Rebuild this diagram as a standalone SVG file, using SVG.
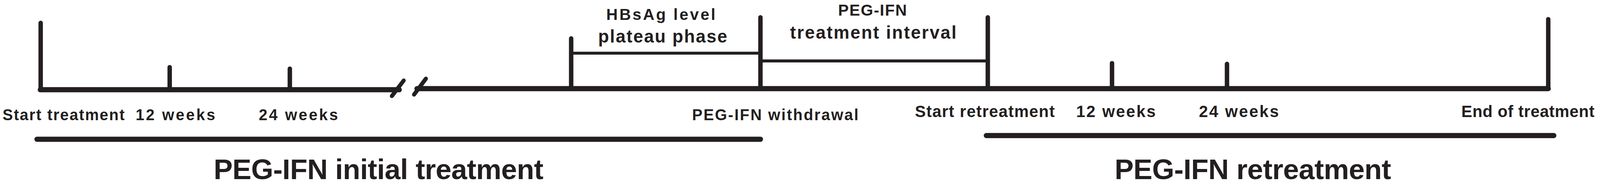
<svg xmlns="http://www.w3.org/2000/svg" width="4328" height="492" viewBox="0 0 4328 492" preserveAspectRatio="xMinYMin meet">
<style>
svg{width:100vw;height:100vh;display:block}
.ln{stroke:#231f20;stroke-linecap:round;fill:none}
.axis{stroke-width:14}
.tick{stroke-width:12}
.brk{stroke-width:8;stroke-linecap:butt}
.bar{stroke-width:14}
text{font-family:"Liberation Sans",Arial,Helvetica,sans-serif;font-weight:bold;fill:#231f20}
.s1{font-size:42px}
.s2{font-size:44px}
.h1{font-size:43px}
.h2{font-size:48px}
.big{font-size:77px}
</style>
<rect width="4328" height="492" fill="#ffffff"/>
<g id="connectors">
  <line class="ln axis" x1="109" y1="243" x2="1080" y2="243"/>
  <line class="ln axis" x1="1128" y1="240" x2="4188" y2="240"/>
  <line class="ln" stroke-width="11" x1="1060" y1="260" x2="1092" y2="218"/>
  <line class="ln" stroke-width="11" x1="1120" y1="256" x2="1152" y2="213"/>
</g>
<g id="start-treatment">
  <line class="ln tick" x1="110" y1="62" x2="110" y2="243"/>
  <text class="s1" x="7" y="325" textLength="330" lengthAdjust="spacing">Start treatment</text>
</g>
<g id="week12-initial">
  <line class="ln tick" x1="459" y1="182" x2="459" y2="243"/>
  <text class="s1" x="367" y="325" textLength="215" lengthAdjust="spacing">12 weeks</text>
</g>
<g id="week24-initial">
  <line class="ln tick" x1="784" y1="186" x2="784" y2="243"/>
  <text class="s1" x="700" y="325" textLength="214" lengthAdjust="spacing">24 weeks</text>
</g>
<g id="plateau-phase">
  <line class="ln tick" x1="1545" y1="104" x2="1545" y2="240"/>
  <line class="ln brk" x1="1545" y1="144" x2="2057" y2="144"/>
  <text class="h1" x="1640" y="54" textLength="295" lengthAdjust="spacing">HBsAg level</text>
  <text class="h2" x="1618" y="115" textLength="349" lengthAdjust="spacing">plateau phase</text>
</g>
<g id="withdrawal">
  <line class="ln tick" x1="2057" y1="47" x2="2057" y2="240"/>
  <text class="s1" x="1872" y="325" textLength="450" lengthAdjust="spacing">PEG-IFN withdrawal</text>
</g>
<g id="treatment-interval">
  <line class="ln brk" x1="2057" y1="165" x2="2672" y2="165"/>
  <text class="h1" x="2267" y="42" textLength="186" lengthAdjust="spacing">PEG-IFN</text>
  <text class="h2" x="2137" y="105" textLength="450" lengthAdjust="spacing">treatment interval</text>
</g>
<g id="start-retreatment">
  <line class="ln tick" x1="2672" y1="47" x2="2672" y2="240"/>
  <text class="s2" x="2475" y="317" textLength="378" lengthAdjust="spacing">Start retreatment</text>
</g>
<g id="week12-re">
  <line class="ln tick" x1="3008" y1="171" x2="3008" y2="240"/>
  <text class="s2" x="2911" y="317" textLength="215" lengthAdjust="spacing">12 weeks</text>
</g>
<g id="week24-re">
  <line class="ln tick" x1="3319" y1="173" x2="3319" y2="240"/>
  <text class="s2" x="3243" y="317" textLength="216" lengthAdjust="spacing">24 weeks</text>
</g>
<g id="end-treatment">
  <line class="ln tick" x1="4188" y1="52" x2="4188" y2="240"/>
  <text class="s2" x="3953" y="317" textLength="360" lengthAdjust="spacing">End of treatment</text>
</g>
<g id="initial-phase">
  <line class="ln bar" x1="100" y1="377" x2="2057" y2="377"/>
  <text class="big" x="578" y="485" textLength="892" lengthAdjust="spacing">PEG-IFN initial treatment</text>
</g>
<g id="retreatment-phase">
  <line class="ln bar" x1="2668" y1="367" x2="4203" y2="367"/>
  <text class="big" x="3015" y="485" textLength="748" lengthAdjust="spacing">PEG-IFN retreatment</text>
</g>
</svg>
